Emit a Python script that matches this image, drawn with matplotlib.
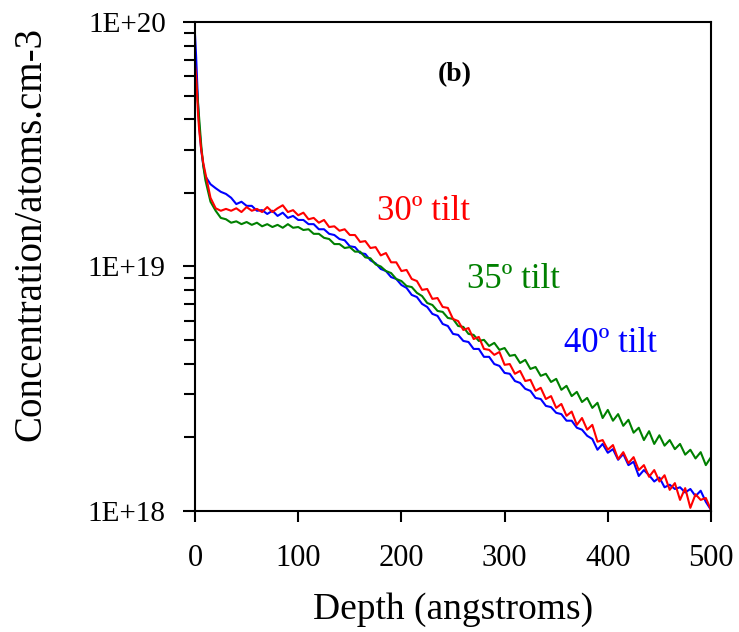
import matplotlib
matplotlib.use("Agg")
import matplotlib.pyplot as plt
from matplotlib.ticker import FixedLocator, LogLocator, NullFormatter

# depth grid (angstroms), finer near the surface spike
depth = [0, 1, 2, 3, 4, 6, 8] + list(range(10, 505, 5))

# concentrations in units of 1E+18 atoms/cm3
conc_30 = [66.7, 60.7, 50.3, 41.6, 36.2, 30.0, 26.5, 24.1, 19.1, 17.3,
           16.9, 17.2, 16.9, 17.3, 16.7, 17.5, 16.9, 17.2, 16.7, 17.5,
           16.7, 17.3, 17.8, 16.7, 17.0, 16.2, 16.6, 15.6, 15.8, 15.1,
           15.5, 14.5, 14.6, 14.0, 14.2, 13.45, 13.45, 12.6, 12.7, 11.9,
           12.0, 11.1, 11.35, 10.4, 10.4, 9.58, 9.68, 8.89, 8.72, 8.02,
           8.09, 7.37, 7.43, 6.83, 6.77, 6.10, 5.98, 5.50, 5.60, 5.05,
           5.15, 4.60, 4.56, 4.35, 4.47, 3.96, 3.99, 3.64, 3.74, 3.40,
           3.44, 3.10, 3.19, 2.87, 2.95, 2.64, 2.74, 2.45, 2.55, 2.25,
           2.40, 2.15, 2.25, 1.92, 1.95, 1.78, 1.86, 1.63, 1.74, 1.57,
           1.66, 1.47, 1.54, 1.38, 1.47, 1.32, 1.40, 1.22, 1.30, 1.11,
           1.24, 1.03, 1.17, 1.11, 1.13, 1.01]

conc_35 = [60.7, 57.9, 52.7, 45.8, 40.5, 31.4, 25.8, 22.6, 18.4, 16.9,
           15.8, 15.6, 15.1, 15.3, 14.9, 15.2, 14.8, 15.1, 14.6, 14.9,
           14.5, 14.8, 14.4, 14.9, 14.4, 14.5, 14.1, 14.2, 13.6, 13.6,
           13.1, 12.95, 12.35, 12.35, 11.9, 12.0, 11.5, 11.5, 10.9, 10.8,
           10.2, 10.0, 9.58, 9.40, 8.89, 8.72, 8.32, 8.24, 7.80, 7.57,
           7.09, 6.96, 6.58, 6.52, 6.16, 6.10, 5.71, 5.66, 5.30, 5.25,
           4.96, 5.01, 4.73, 4.87, 4.56, 4.64, 4.31, 4.35, 4.03, 4.15,
           3.81, 3.88, 3.57, 3.64, 3.37, 3.47, 3.13, 3.25, 2.95, 3.07,
           2.79, 2.90, 2.64, 2.77, 2.40, 2.59, 2.34, 2.49, 2.23, 2.36,
           2.09, 2.19, 1.95, 2.12, 1.88, 2.04, 1.85, 1.95, 1.79, 1.88,
           1.70, 1.78, 1.64, 1.74, 1.54, 1.66]

conc_40 = [88.5, 73.3, 57.9, 45.8, 37.9, 30.0, 26.0, 23.4, 21.7, 20.9,
           20.2, 19.8, 19.1, 18.0, 18.4, 17.7, 17.7, 16.9, 17.0, 16.4,
           16.9, 16.1, 16.6, 15.8, 16.1, 15.5, 15.5, 14.9, 14.9, 14.2,
           14.2, 13.6, 13.45, 12.95, 12.8, 12.1, 12.0, 11.35, 11.25, 10.6,
           10.3, 9.77, 9.58, 9.05, 8.89, 8.40, 8.17, 7.65, 7.50, 7.03,
           6.83, 6.40, 6.28, 5.82, 5.71, 5.30, 5.25, 4.96, 4.91, 4.60,
           4.60, 4.27, 4.27, 3.99, 3.92, 3.67, 3.64, 3.40, 3.34, 3.16,
           3.10, 2.90, 2.87, 2.69, 2.66, 2.52, 2.49, 2.34, 2.34, 2.19,
           2.15, 2.03, 1.97, 1.78, 1.88, 1.73, 1.79, 1.62, 1.71, 1.54,
           1.59, 1.39, 1.47, 1.40, 1.32, 1.37, 1.25, 1.28, 1.23, 1.25,
           1.19, 1.23, 1.15, 1.21, 1.09, 1.01]

series = [("40º tilt", conc_40, "#0000ff"),
          ("35º tilt", conc_35, "#008000"),
          ("30º tilt", conc_30, "#ff0000")]

x_ticks = [0, 100, 200, 300, 400, 500]
y_ticks = [1e18, 1e19, 1e20]
y_tick_labels = ["1E+18", "1E+19", "1E+20"]

plt.rcParams["font.family"] = ["Liberation Serif", "DejaVu Serif"]

fig = plt.figure(figsize=(7.39, 6.32), dpi=100)
ax = fig.add_axes([0.2639, 0.1915, 0.6982, 0.7737])

for name, vals, color in series:
    ax.plot(depth, [v * 1e18 for v in vals], color=color, lw=1.5)

ax.set_yscale("log")
ax.set_xlim(0, 500)
ax.set_ylim(1e18, 1e20)

ax.xaxis.set_major_locator(FixedLocator(x_ticks))
ax.set_xticklabels([str(t) for t in x_ticks], fontsize=22)
ax.yaxis.set_major_locator(FixedLocator(y_ticks))
ax.set_yticklabels(y_tick_labels, fontsize=21)
ax.yaxis.set_minor_locator(LogLocator(base=10, subs=range(2, 10)))
ax.yaxis.set_minor_formatter(NullFormatter())

ax.tick_params(axis="x", which="major", direction="out", length=8, width=1.5, pad=16)
ax.tick_params(axis="y", which="major", direction="out", length=9, width=1.5, pad=12)
ax.tick_params(axis="y", which="minor", direction="out", length=8, width=1.5)
for s in ax.spines.values():
    s.set_linewidth(1.5)

ax.set_xlabel("Depth (angstroms)", fontsize=27, labelpad=14)
fig.text(0.042, 0.63, "Concentration/atoms.cm-3", rotation=90,
         fontsize=28, ha="center", va="center")

# curve labels
ax.text(176, 15.5e18, "30º tilt", color="#ff0000", fontsize=25)
ax.text(264, 8.15e18, "35º tilt", color="#008000", fontsize=25)
ax.text(358, 4.47e18, "40º tilt", color="#0000ff", fontsize=25)
ax.text(252, 61e18, "(b)", fontsize=20, fontweight="bold", ha="center", va="center")

fig.savefig("out.png", dpi=100)
